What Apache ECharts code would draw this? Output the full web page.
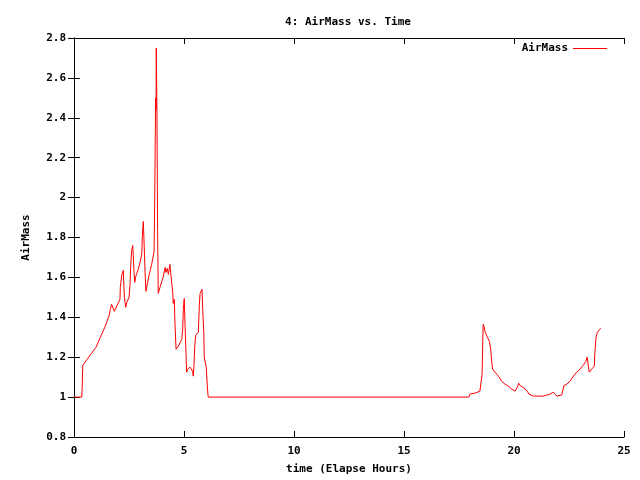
<!DOCTYPE html>
<html>
<head>
<meta charset="utf-8">
<script src="https://cdn.jsdelivr.net/npm/echarts@6/dist/echarts.min.js"></script>
<style>html,body{margin:0;padding:0;background:#fff}#c{width:640px;height:480px}</style>
</head>
<body>
<div id="c"></div>
<script>
var chartTitle = '4: AirMass vs. Time';
var xAxisName = 'time (Elapse Hours)';
var yAxisName = 'AirMass';
var seriesName = 'AirMass';

var hours = [
  0, 0.35, 0.37, 0.40, 0.45, 0.60, 0.80, 1.00, 1.20, 1.40, 1.60, 1.65, 1.71, 1.83, 2.09, 2.105, 2.17, 2.24, 2.29, 2.35,
  2.40, 2.50, 2.545, 2.58, 2.62, 2.67, 2.695, 2.73, 2.76, 2.82, 2.92, 3.00, 3.08, 3.105, 3.15, 3.18, 3.23, 3.27, 3.33, 3.42,
  3.53, 3.64, 3.67, 3.71, 3.73, 3.74, 3.77, 3.80, 3.83, 3.91, 3.99, 4.06, 4.14, 4.18, 4.24, 4.29, 4.36, 4.41, 4.44, 4.49,
  4.51, 4.56, 4.59, 4.64, 4.74, 4.90, 4.94, 4.97, 5.01, 5.05, 5.09, 5.12, 5.17, 5.27, 5.35, 5.39, 5.42, 5.45, 5.49, 5.53,
  5.60, 5.65, 5.70, 5.73, 5.77, 5.82, 5.85, 5.90, 5.92, 5.97, 6.01, 6.06, 6.10, 17.95, 18.00, 18.08, 18.23, 18.30, 18.45, 18.51,
  18.55, 18.58, 18.60, 18.65, 18.68, 18.73, 18.79, 18.88, 18.94, 18.99, 19.03, 19.14, 19.29, 19.44, 19.59, 19.74, 19.90, 20.05, 20.12, 20.17,
  20.21, 20.27, 20.40, 20.50, 20.60, 20.68, 20.73, 20.88, 21.33, 21.49, 21.64, 21.79, 21.86, 21.94, 22.17, 22.21, 22.27, 22.40, 22.55, 22.70,
  22.85, 23.00, 23.15, 23.27, 23.33, 23.38, 23.42, 23.53, 23.65, 23.68, 23.73, 23.79, 23.88, 23.94
];
var airMass = [
  1.0, 1.0, 1.04, 1.16, 1.17, 1.19, 1.22, 1.25, 1.30, 1.35, 1.41, 1.44, 1.465, 1.43, 1.49, 1.55, 1.61, 1.635, 1.50, 1.45,
  1.475, 1.50, 1.56, 1.66, 1.735, 1.76, 1.71, 1.625, 1.575, 1.61, 1.64, 1.675, 1.715, 1.80, 1.88, 1.79, 1.625, 1.53, 1.565, 1.615,
  1.665, 1.73, 2.0, 2.5, 2.44, 2.75, 2.44, 1.83, 1.52, 1.55, 1.58, 1.605, 1.65, 1.625, 1.645, 1.615, 1.665, 1.67, 1.67, 1.52,
  1.47, 1.49, 1.365, 1.24, 1.255, 1.29, 1.34, 1.44, 1.495, 1.355, 1.225, 1.125, 1.14, 1.15, 1.155, 1.13, 1.105, 1.15, 1.255, 1.31,
  1.315, 1.325, 1.465, 1.52, 1.53, 1.54, 1.44, 1.325, 1.20, 1.21, 1.15, 1.055, 1.0, 1.0, 1.015, 1.02, 1.02, 1.03, 1.03, 1.035,
  1.115, 1.28, 1.365, 1.35, 1.33, 1.315, 1.30, 1.28, 1.24, 1.175, 1.14, 1.125, 1.105, 1.08, 1.065, 1.055, 1.04, 1.03, 1.025, 1.055,
  1.07, 1.058, 1.05, 1.04, 1.03, 1.015, 1.005, 1.005, 1.005, 1.01, 1.015, 1.025, 1.015, 1.005, 1.01, 1.03, 1.058, 1.065, 1.08, 1.105,
  1.125, 1.14, 1.16, 1.18, 1.20, 1.155, 1.125, 1.14, 1.155, 1.23, 1.30, 1.325, 1.33, 1.345
];

var pairs = hours.map(function (h, i) { return [h, airMass[i]]; });

var fnt = 'DejaVu Sans Mono';
var txt = { fontFamily: fnt, fontSize: 11, fontWeight: 'bold', color: '#000' };

var chart = echarts.init(document.getElementById('c'), null, { renderer: 'canvas' });
var axLine = { show: true, lineStyle: { color: '#000', width: 1 } };
var axTick = { show: true, inside: true, length: 6, lineStyle: { color: '#000', width: 1 } };

chart.setOption({
  backgroundColor: '#fff',
  animation: false,
  title: {
    text: chartTitle, left: 343, top: 12, textAlign: 'center',
    textStyle: Object.assign({}, txt)
  },
  legend: {
    data: [seriesName], right: 28, top: 38, align: 'right',
    icon: 'rect', itemWidth: 34, itemHeight: 1, itemGap: 6,
    textStyle: Object.assign({}, txt)
  },
  grid: { left: 74, right: 16, top: 38, bottom: 42, containLabel: false },
  xAxis: [{
    type: 'value', min: 0, max: 25, interval: 5, position: 'bottom',
    name: xAxisName, nameLocation: 'middle', nameGap: 27,
    nameTextStyle: Object.assign({}, txt),
    axisLine: axLine, axisTick: axTick, splitLine: { show: false },
    axisLabel: Object.assign({ margin: 9 }, txt)
  }, {
    type: 'value', min: 0, max: 25, interval: 5, position: 'top',
    axisLine: axLine, axisTick: axTick, splitLine: { show: false },
    axisLabel: { show: false }
  }],
  yAxis: [{
    type: 'value', min: 0.8, max: 2.8, interval: 0.2, position: 'left',
    name: yAxisName, nameLocation: 'middle', nameGap: 42, nameRotate: 90,
    nameTextStyle: Object.assign({}, txt),
    axisLine: axLine, axisTick: axTick, splitLine: { show: false },
    axisLabel: Object.assign({ margin: 8, formatter: function (v) { return (Math.round(v * 10) / 10).toString(); } }, txt)
  }, {
    type: 'value', min: 0.8, max: 2.8, interval: 0.2, position: 'right',
    axisLine: axLine, axisTick: axTick, splitLine: { show: false },
    axisLabel: { show: false }
  }],
  series: [{
    name: seriesName, type: 'line', data: pairs,
    xAxisIndex: 0, yAxisIndex: 0,
    symbol: 'none', showSymbol: false,
    lineStyle: { color: '#ff0000', width: 1 },
    itemStyle: { color: '#ff0000' }
  }]
});
</script>
</body>
</html>
